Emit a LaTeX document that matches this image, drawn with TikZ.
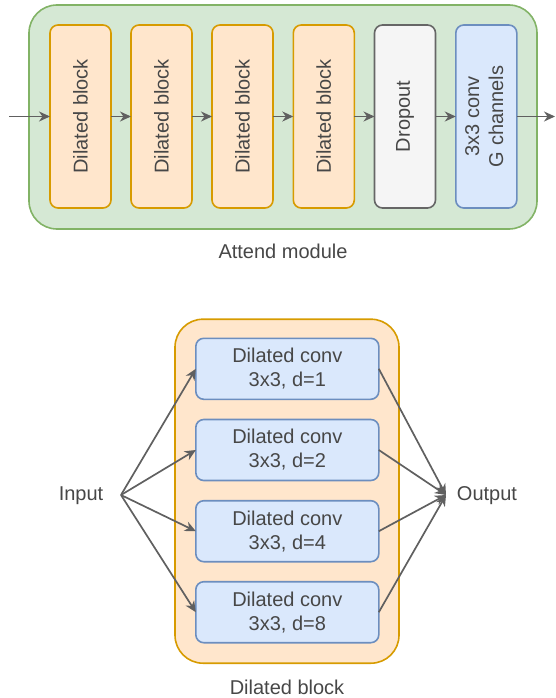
\documentclass[tikz,border=0pt]{standalone}
\usepackage{fontspec}
\setmainfont{Liberation Sans}
\usetikzlibrary{arrows.meta}
\definecolor{grnfill}{HTML}{D5E8D4}
\definecolor{grnline}{HTML}{82B366}
\definecolor{orfill}{HTML}{FFE6CC}
\definecolor{orline}{HTML}{D79B00}
\definecolor{gyfill}{HTML}{F5F5F5}
\definecolor{gyline}{HTML}{666666}
\definecolor{blfill}{HTML}{DAE8FC}
\definecolor{blline}{HTML}{6C8EBF}
\definecolor{txt}{HTML}{474747}
\definecolor{arr}{HTML}{606060}
\tikzset{
  base/.style={inner sep=0pt, outer sep=0pt, text=txt, font=\fontsize{20}{24}\selectfont, align=center},
  container/.style={base, draw, line width=1.6pt, rounded corners=28pt},
  vblock/.style={base, draw, line width=1.6pt, rounded corners=8pt, minimum width=61pt, minimum height=183pt},
  hblock/.style={base, draw, line width=1.6pt, rounded corners=8pt, minimum width=183pt, minimum height=61pt},
  orangebox/.style={fill=orfill, draw=orline},
  bluebox/.style={fill=blfill, draw=blline},
  graybox/.style={fill=gyfill, draw=gyline},
  lbl/.style={base},
  conn/.style={draw=arr, line width=1.7pt, -{Stealth[length=11pt,width=10pt,inset=3.5pt]}},
}
\begin{document}
\begin{tikzpicture}[x=1pt,y=-1pt]
\useasboundingbox (0,0) rectangle (555,698);
% Attend module
\node[container, fill=grnfill, draw=grnline, minimum width=508pt, minimum height=224pt] (attend) at (283,117) {};
\node[vblock, orangebox] (b1) at (80.5,116.5) {\rotatebox{90}{Dilated block}};
\node[vblock, orangebox] (b2) at (161.5,116.5) {\rotatebox{90}{Dilated block}};
\node[vblock, orangebox] (b3) at (242.5,116.5) {\rotatebox{90}{Dilated block}};
\node[vblock, orangebox] (b4) at (323.8,116.5) {\rotatebox{90}{Dilated block}};
\node[vblock, graybox] (drop) at (405,116.5) {\rotatebox{90}{Dropout}};
\node[vblock, bluebox] (conv) at (486.3,116.5) {\rotatebox{90}{\begin{tabular}{@{}c@{}}3x3 conv\\G channels\end{tabular}}};
\coordinate (in) at (9,116.5);
\coordinate (out) at (555,116.5);
\draw[conn] (in) -- (b1);
\draw[conn] (b1) -- (b2);
\draw[conn] (b2) -- (b3);
\draw[conn] (b3) -- (b4);
\draw[conn] (b4) -- (drop);
\draw[conn] (drop) -- (conv);
\draw[conn] (conv) -- (out);
\node[lbl] (attendlbl) at (283,251) {Attend module};
% Dilated block
\node[container, fill=orfill, draw=orline, minimum width=224pt, minimum height=344pt] (dblock) at (287,491.2) {};
\node[hblock, bluebox] (c1) at (287.3,368.8) {Dilated conv\\3x3, d=1};
\node[hblock, bluebox] (c2) at (287.3,450) {Dilated conv\\3x3, d=2};
\node[hblock, bluebox] (c3) at (287.3,531.2) {Dilated conv\\3x3, d=4};
\node[hblock, bluebox] (c4) at (287.3,612.2) {Dilated conv\\3x3, d=8};
\node[lbl] (inputlbl) at (81,496) {Input};
\node[lbl] (outputlbl) at (487,496) {Output};
\coordinate (ip) at (121,495);
\coordinate (op) at (446,495);
\foreach \c in {c1,c2,c3,c4} {
  \draw[conn] (ip) -- (\c.west);
  \draw[conn] (\c.east) -- (op);
}
\node[lbl] (dblbl) at (287,687) {Dilated block};
\end{tikzpicture}
\end{document}
